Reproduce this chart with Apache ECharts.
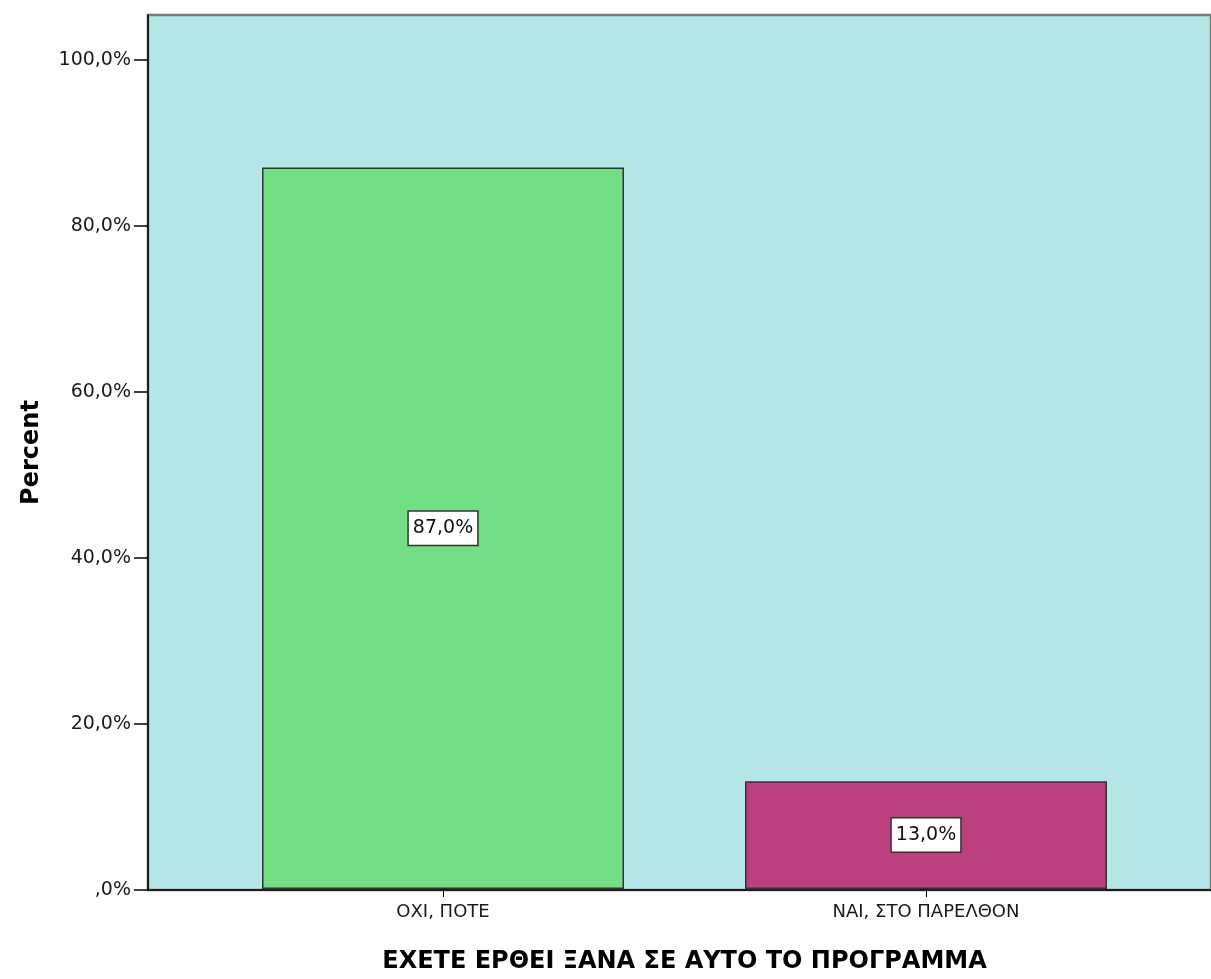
<!DOCTYPE html>
<html>
<head>
<meta charset="utf-8">
<script src="https://cdn.jsdelivr.net/npm/echarts@6/dist/echarts.min.js"></script>
<style>
  html, body { margin: 0; padding: 0; background: #fff; }
  #chart { width: 1211px; height: 979px; }
</style>
</head>
<body>
<div id="chart"></div>
<script>
const categories = ['ΟΧΙ, ΠΟΤΕ', 'ΝΑΙ, ΣΤΟ ΠΑΡΕΛΘΟΝ'];
const percents = [87.0, 13.0];
const yTicks = [0, 20, 40, 60, 80, 100];

const barColors = ['#72de86', '#bc3f7e'];
const plotBg = '#b4e6e6';

// SPSS style: decimal comma, no leading zero
function spssPercent(v) {
    const s = v.toFixed(1).replace('.', ',');
    return (s.startsWith('0,') ? s.slice(1) : s) + '%';
}

const chartDom = document.getElementById('chart');
const chart = echarts.init(chartDom);

const option = {
    animation: false,
    textStyle: { fontFamily: 'DejaVu Sans' },
    grid: [
        // background + y axis
        { left: 148, top: 15, right: -6, bottom: 89, show: true, backgroundColor: plotBg, borderColor: '#7a7a7a', borderWidth: 2.5 },
        // bars (SPSS leaves some space at the sides)
        { left: 201.5, top: 15, width: 966, bottom: 89 }
    ],
    xAxis: [
        {
            gridIndex: 0, type: 'value', min: 0, max: 1,
            axisLine: { show: true, lineStyle: { color: '#000', width: 1.5 } },
            axisTick: { show: false }, axisLabel: { show: false }, splitLine: { show: false }
        },
        {
            gridIndex: 1, type: 'category', data: categories,
            axisLine: { show: false },
            axisTick: { show: true, alignWithLabel: true, length: 8, lineStyle: { color: '#000' } },
            axisLabel: { color: '#1a1a1a', fontSize: 18, margin: 14 },
            name: 'ΕΧΕΤΕ ΕΡΘΕΙ ΞΑΝΑ ΣΕ ΑΥΤΟ ΤΟ ΠΡΟΓΡΑΜΜΑ',
            nameLocation: 'middle', nameGap: 61,
            nameTextStyle: { color: '#000', fontSize: 24, fontWeight: 'bold' }
        }
    ],
    yAxis: [
        {
            gridIndex: 0, type: 'value', min: 0, max: 105.4, interval: 20,
            axisLine: { show: true, lineStyle: { color: '#000', width: 1.5 } },
            axisTick: { show: true, length: 14, lineStyle: { color: '#000', width: 1.5 } },
            axisLabel: {
                color: '#1a1a1a', fontSize: 19, margin: 17, showMaxLabel: false,
                formatter: v => yTicks.includes(v) ? spssPercent(v) : ''
            },
            splitLine: { show: false },
            name: 'Percent', nameLocation: 'middle', nameGap: 104,
            nameTextStyle: { color: '#000', fontSize: 24, fontWeight: 'bold' }
        },
        {
            gridIndex: 1, type: 'value', min: 0, max: 105.4, show: false
        }
    ],
    series: [{
        type: 'bar',
        xAxisIndex: 1, yAxisIndex: 1,
        barWidth: 362,
        data: percents.map((v, i) => ({
            value: v,
            itemStyle: { color: barColors[i] }
        })),
        itemStyle: { borderColor: '#333', borderWidth: 1.5 },
        label: {
            show: true, position: 'inside',
            formatter: p => spssPercent(p.value),
            color: '#111', fontSize: 19,
            backgroundColor: '#fff', borderColor: '#333', borderWidth: 1.5,
            padding: [7, 4]
        }
    }]
};

chart.setOption(option);
</script>
</body>
</html>
